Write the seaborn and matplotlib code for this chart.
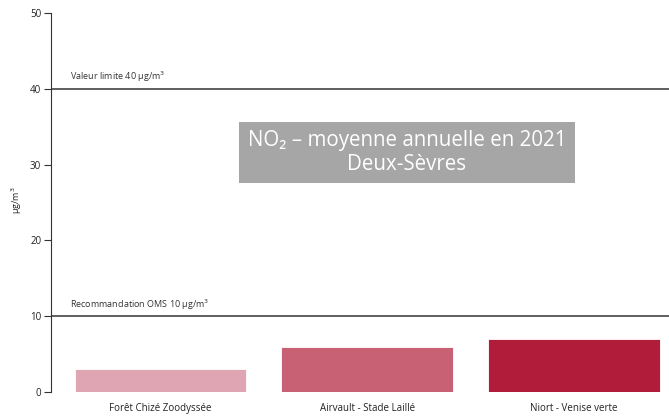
import matplotlib
matplotlib.use("Agg")
import matplotlib.pyplot as plt
import seaborn as sns
import pandas as pd

# Annual mean NO2 concentration per station (µg/m³)
stations = ["Forêt Chizé Zoodyssée", "Airvault - Stade Laillé", "Niort - Venise verte"]
values = [3, 6, 7]
colors = ["#E0A5B2", "#C96174", "#B01C3A"]

# Reference thresholds
limit_value = 40
who_value = 10
limit_label = "Valeur limite 40 µg/m$^3$"
who_label = "Recommandation OMS 10 µg/m$^3$"
yticks = [0, 10, 20, 30, 40, 50]

df = pd.DataFrame({"station": stations, "value": values})

sns.set_theme(style="white")
plt.rcParams["font.family"] = ["Open Sans", "DejaVu Sans"]

fig = plt.figure(figsize=(6.69, 4.16), dpi=100)
ax = fig.add_axes([51 / 669, 24 / 416, 618 / 669, 379 / 416])

sns.barplot(data=df, x="station", y="value", hue="station", palette=colors,
            width=0.83, legend=False, ax=ax, saturation=1, edgecolor="white",
            linewidth=0.6)

ax.set_xlim(-0.53, 2.46)
ax.set_ylim(0, 50)
ax.set_yticks(yticks)
ax.set_xlabel("")
ax.set_ylabel("µg/m$^3$", fontsize=6.5, color="#222222")
ax.yaxis.set_label_coords(-0.044, 0.507)

for s in ["top", "right", "bottom"]:
    ax.spines[s].set_visible(False)
ax.spines["left"].set_color("#333333")
ax.spines["left"].set_linewidth(0.8)
ax.tick_params(axis="y", left=True, length=5, width=0.8, color="#333333",
               labelsize=7, labelcolor="#222222", pad=2)
ax.tick_params(axis="x", bottom=False, labelsize=7, labelcolor="#222222", pad=2)

# Threshold lines with their labels
for val, lab in [(limit_value, limit_label), (who_value, who_label)]:
    ax.axhline(val, color="#333333", linewidth=1.1, zorder=0)
    ax.text(0.031, val + 0.6, lab, transform=ax.get_yaxis_transform(),
            fontsize=6.5, color="#333333", ha="left", va="bottom")

# Title box
ax.text(0.576, 0.632, "NO₂ – moyenne annuelle en 2021\nDeux-Sèvres",
        transform=ax.transAxes, ha="center", va="center", fontsize=14.8,
        color="white", linespacing=1.15,
        bbox=dict(boxstyle="square,pad=0.42", facecolor="#A6A6A6", edgecolor="none"))

fig.savefig("out.png", dpi=100)
